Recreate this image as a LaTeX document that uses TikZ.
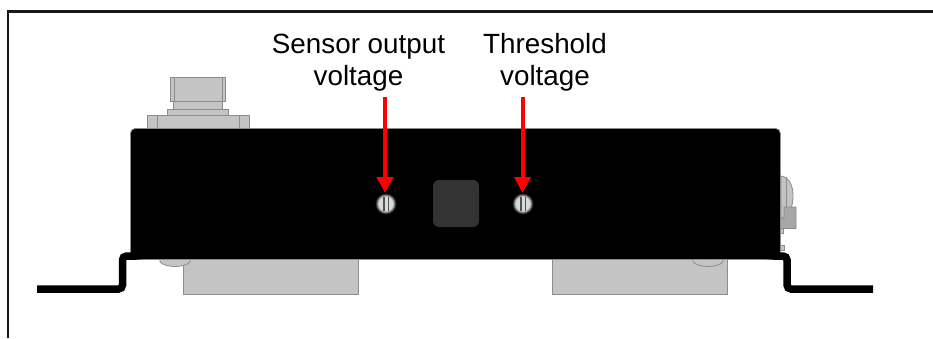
\documentclass[tikz,border=0pt]{standalone}
\usepackage{fontspec}
\setmainfont{Liberation Sans}
\usetikzlibrary{arrows.meta}
\definecolor{partgray}{HTML}{C4C4C4}
\definecolor{edgegray}{HTML}{8C8C8C}
\definecolor{darkpad}{HTML}{333333}
\tikzset{
  x=1pt,y=-1pt,
  part/.style={fill=partgray,draw=edgegray,line width=0.8pt},
  seam/.style={draw=edgegray,line width=0.8pt},
  frameline/.style={draw=black!90,line width=2.4pt},
  bracket/.style={draw=black,line width=7.5pt,rounded corners=4pt},
  redarrow/.style={draw=red,line width=4pt,-{Triangle[width=16pt,length=16pt]},shorten >=0pt},
  label/.style={font=\fontsize{27.8}{32}\selectfont,align=center,inner sep=0pt,text=black},
  screwhead/.style={circle,minimum size=21pt,inner sep=0pt},
  slot/.style={draw=darkpad!85,line width=1.4pt}
}
\newcommand{\glowdisc}[1]{%
  \foreach \rad/\lev in {10.5/10,10/20,9.5/32,9/45,8.5/58,8/70,7.5/80,7/85}{
    \fill[black!\lev!white,color=white!\lev!black] (#1) circle[radius=\rad pt];
  }
}
\begin{document}
\begin{tikzpicture}
\useasboundingbox (0,0) rectangle (933,338);
\fill[white] (0,0) rectangle (933,338);
% frame
\draw[frameline] (8,338) -- (8,11.3) -- (933,11.3);
% connector on top
\draw[part] (147.5,128) rectangle (249.5,115);
\draw[seam] (157,115) -- (157,128) (239,115) -- (239,128);
\draw[part] (167.5,115) rectangle (228.5,109);
\draw[part] (173.5,109) rectangle (222.5,101.5);
\draw[part] (170.5,77) rectangle (225.5,101.5);
\draw[seam] (174,77) -- (174,101.5) (222,77) -- (222,101.5);
% right side parts
\draw[part] (781,176) .. controls (790,177) and (793,187) .. (793,196) .. controls (793,207) and (789,216) .. (781,218.5) -- cycle;
\draw[seam] (786,177) -- (786,218);
\draw[part,fill=partgray!85!black] (784,207) -- (796,207) -- (796,228.5) -- (780,228.5) -- (780,218.5) -- (784,218) -- cycle;
\draw[part] (780,228.5) rectangle (783.5,233);
\draw[part] (780,245) rectangle (784,250);
% plates and screws under the body
\draw[part] (183,255) rectangle (358,294);
\draw[part] (552,255) rectangle (727,294);
\draw[part] (160,255) -- (160,262) .. controls (166,268) and (184,268) .. (190,262) -- (190,255) -- cycle;
\draw[part] (693,255) -- (693,262) .. controls (699,268) and (717,268) .. (723,262) -- (723,255) -- cycle;
% body
\node[draw=edgegray,line width=0.8pt,fill=black,rounded corners=5pt,minimum width=650pt,minimum height=131pt,inner sep=0pt,anchor=north west] (body) at (130,128) {};
% brackets
\coordinate (lbA) at (37,289);
\coordinate (lbB) at (122.5,289);
\coordinate (lbC) at (122.5,256);
\coordinate (lbD) at (136,256);
\coordinate (rbA) at (873,289);
\coordinate (rbB) at (787,289);
\coordinate (rbC) at (787,256);
\coordinate (rbD) at (774,256);
\draw[bracket] (lbA) -- (lbB) -- (lbC) -- (lbD);
\draw[bracket] (rbA) -- (rbB) -- (rbC) -- (rbD);
\fill[black] (134,252.3) -- (140,252.5) -- (145,259) -- (134,259.8) -- cycle;
\fill[black] (776,252.3) -- (771,252.5) -- (765,259) -- (776,259.8) -- cycle;
% front panel
\node[fill=darkpad,rounded corners=6pt,minimum width=46pt,minimum height=47pt,inner sep=0pt] (pad) at (456,203.5) {};
\node[screwhead] (screwL) at (386,204) {};
\node[screwhead] (screwR) at (523,204) {};
\glowdisc{screwL}
\glowdisc{screwR}
\draw[slot] (384,197) -- (384,211) (388.5,197) -- (388.5,211);
\draw[slot] (521,197) -- (521,211) (525.5,197) -- (525.5,211);
% labels
\node[label,anchor=base] (sensorA) at (358.5,53) {Sensor output};
\node[label,anchor=base] (sensorB) at (358.5,85) {voltage};
\node[label,anchor=base] (threshA) at (545,53) {Threshold};
\node[label,anchor=base] (threshB) at (545,85) {voltage};
% arrows
\coordinate (startL) at (385,97);
\coordinate (tipL) at (385,193);
\coordinate (startR) at (522.5,97);
\coordinate (tipR) at (522.5,193);
\draw[redarrow] (startL) -- (tipL);
\draw[redarrow] (startR) -- (tipR);
\end{tikzpicture}
\end{document}
